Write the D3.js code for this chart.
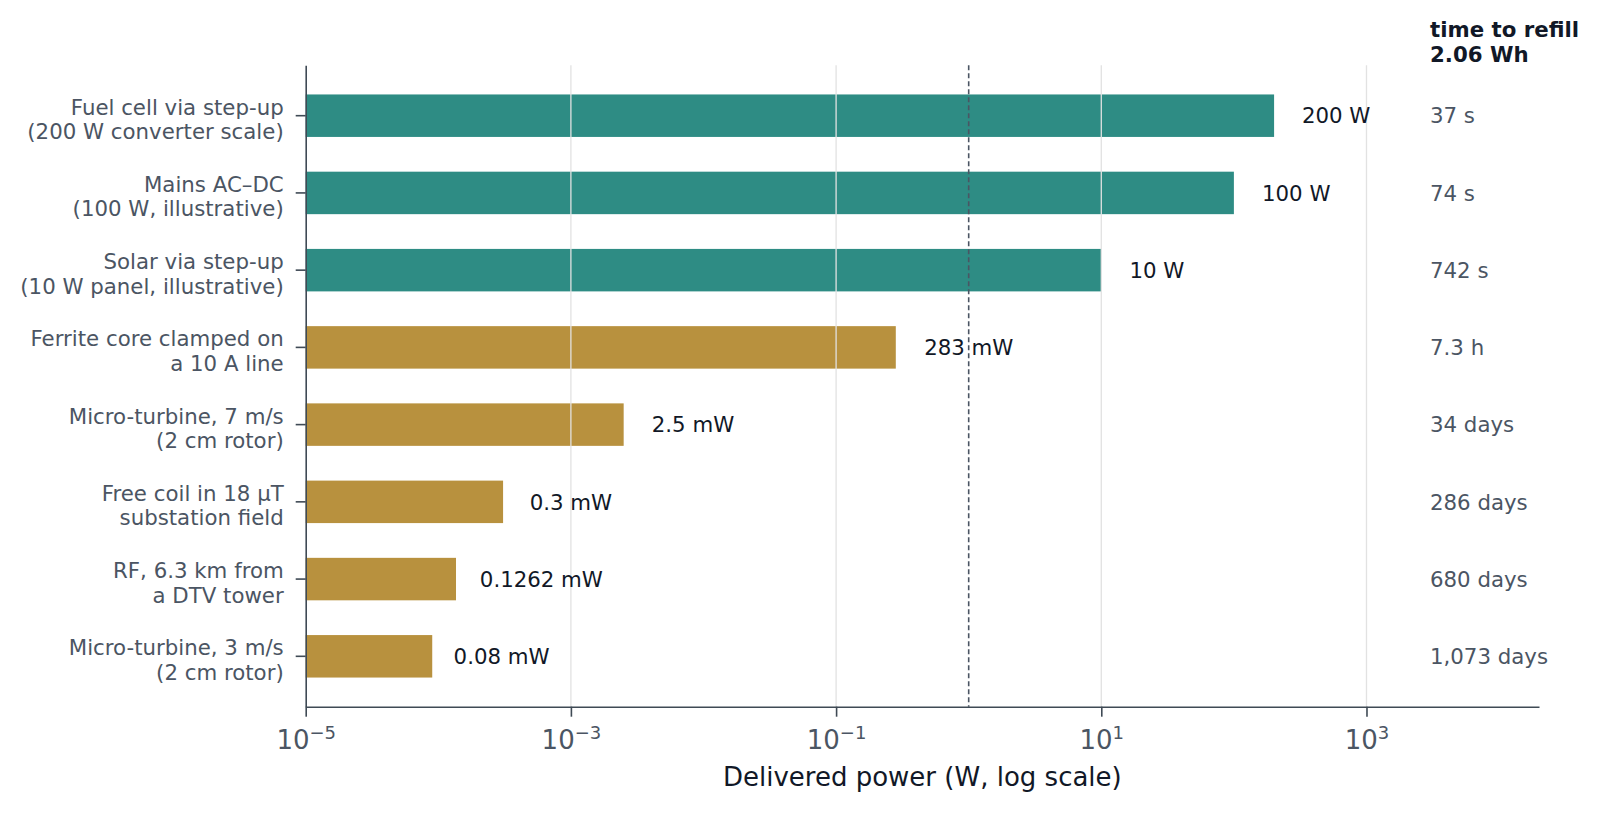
<!DOCTYPE html>
<html>
<head>
<meta charset="UTF-8">
<title>Delivered power (log scale)</title>
<script src="https://cdn.jsdelivr.net/npm/d3@7"></script>
<style>
  body { margin: 0; background: #ffffff; }
  svg { display: block; font-family: "DejaVu Sans", sans-serif; }
</style>
</head>
<body>
<svg width="1600" height="813"></svg>
<script>
// data
var sources = [
  ["Fuel cell via step-up", "(200 W converter scale)"],
  ["Mains AC\u2013DC", "(100 W, illustrative)"],
  ["Solar via step-up", "(10 W panel, illustrative)"],
  ["Ferrite core clamped on", "a 10 A line"],
  ["Micro-turbine, 7 m/s", "(2 cm rotor)"],
  ["Free coil in 18 \u00b5T", "substation field"],
  ["RF, 6.3 km from", "a DTV tower"],
  ["Micro-turbine, 3 m/s", "(2 cm rotor)"]
];
var kind = ["supply", "supply", "supply", "harvest", "harvest", "harvest", "harvest", "harvest"];
// bar ends as drawn
var barWatts = [201, 100, 10, 0.282, 0.0025, 0.000308, 0.000136, 0.00009];
// powers quoted in the labels
var labelWatts = [200, 100, 10, 0.283, 0.0025, 0.0003, 0.0001262, 0.00008];
var valueLabels = ["200 W", "100 W", "10 W", "283 mW", "2.5 mW", "0.3 mW", "0.1262 mW", "0.08 mW"];
var refillTimes = ["37 s", "74 s", "742 s", "7.3 h", "34 days", "286 days", "680 days", "1,073 days"];
var xTicks = [1e-5, 1e-3, 1e-1, 1e1, 1e3];
var xExps = ["\u22125", "\u22123", "\u22121", "1", "3"];
var refWatts = 1;

var colors = { supply: "#2e8c84", harvest: "#b8913e" };
var ink = "#111827", muted = "#4b5563", axisCol = "#3f4a55";
var font = "DejaVu Sans, sans-serif";
var fs = "21.3px";

var svg = d3.select("svg");
var m = { left: 305.7, right: 1539, top: 65.3, bottom: 706.7 };

var x = d3.scaleLog()
    .domain([1e-5, 2e4])
    .range([m.left, m.right]);

var y = d3.scaleBand()
    .domain(d3.range(sources.length))
    .range([m.top, m.bottom])
    .paddingInner(0.45)
    .paddingOuter(0.3775);

// bars
svg.append("g").selectAll("rect")
    .data(barWatts)
    .enter().append("rect")
    .attr("x", x(1e-5))
    .attr("y", function(d, i) { return y(i); })
    .attr("width", function(d) { return x(d) - x(1e-5); })
    .attr("height", y.bandwidth())
    .attr("fill", function(d, i) { return colors[kind[i]]; });

// grid lines on top of bars
svg.append("g").selectAll("line")
    .data(xTicks.slice(1))
    .enter().append("line")
    .attr("x1", function(d) { return x(d); })
    .attr("x2", function(d) { return x(d); })
    .attr("y1", m.top)
    .attr("y2", m.bottom)
    .attr("stroke", "#e2e2e2")
    .attr("stroke-width", 1.3);

// 1 W reference
svg.append("line")
    .attr("x1", x(refWatts)).attr("x2", x(refWatts))
    .attr("y1", m.top).attr("y2", m.bottom)
    .attr("stroke", "#4b5563")
    .attr("stroke-width", 1.6)
    .attr("stroke-dasharray", "5,3");

// value labels
svg.append("g").selectAll("text")
    .data(labelWatts)
    .enter().append("text")
    .attr("x", function(d) { return x(d * 1.63); })
    .attr("y", function(d, i) { return y(i) + y.bandwidth() / 2; })
    .attr("dy", "0.36em")
    .attr("font-size", fs)
    .attr("fill", ink)
    .text(function(d, i) { return valueLabels[i]; });

// x axis
var xAxis = d3.axisBottom(x)
    .tickValues(xTicks)
    .tickSize(10)
    .tickSizeOuter(0)
    .tickFormat("");
var gx = svg.append("g")
    .attr("transform", "translate(0," + m.bottom + ")")
    .call(xAxis)
    .attr("font-family", font);
gx.select(".domain").attr("stroke", axisCol).attr("stroke-width", 1.6);
gx.selectAll(".tick line").attr("stroke", axisCol).attr("stroke-width", 1.6);
gx.selectAll(".tick").append("text")
    .attr("y", 42.5)
    .attr("text-anchor", "middle")
    .attr("fill", muted)
    .attr("font-size", "26px")
    .each(function(d, i) {
        var t = d3.select(this);
        t.append("tspan").text("10");
        t.append("tspan").attr("dy", -10).attr("font-size", "18px").text(xExps[i]);
    });

svg.append("text")
    .attr("x", (m.left + m.right) / 2)
    .attr("y", 786)
    .attr("text-anchor", "middle")
    .attr("font-size", "26px")
    .attr("fill", ink)
    .text("Delivered power (W, log scale)");

// y axis
var yAxis = d3.axisLeft(y).tickSize(10).tickSizeOuter(0).tickFormat("");
var gy = svg.append("g")
    .attr("transform", "translate(" + m.left + ",0)")
    .call(yAxis)
    .attr("font-family", font);
gy.select(".domain").attr("stroke", axisCol).attr("stroke-width", 1.6);
gy.selectAll(".tick line").attr("stroke", axisCol).attr("stroke-width", 1.6);
gy.selectAll(".tick").append("text")
    .attr("x", -22)
    .attr("text-anchor", "end")
    .attr("fill", muted)
    .attr("font-size", fs)
    .each(function(d) {
        var t = d3.select(this);
        t.append("tspan").attr("x", -22).attr("y", -1).text(sources[d][0]);
        t.append("tspan").attr("x", -22).attr("y", 23.5).text(sources[d][1]);
    });

// time to refill column
var colX = 1430;
var head = svg.append("text")
    .attr("x", colX)
    .attr("font-size", fs)
    .attr("font-weight", "bold")
    .attr("fill", ink);
head.append("tspan").attr("x", colX).attr("y", 36.7).text("time to refill");
head.append("tspan").attr("x", colX).attr("y", 62.3).text("2.06 Wh");

svg.append("g").selectAll("text")
    .data(refillTimes)
    .enter().append("text")
    .attr("x", colX)
    .attr("y", function(d, i) { return y(i) + y.bandwidth() / 2; })
    .attr("dy", "0.36em")
    .attr("font-size", fs)
    .attr("fill", muted)
    .text(function(d) { return d; });
</script>
</body>
</html>
